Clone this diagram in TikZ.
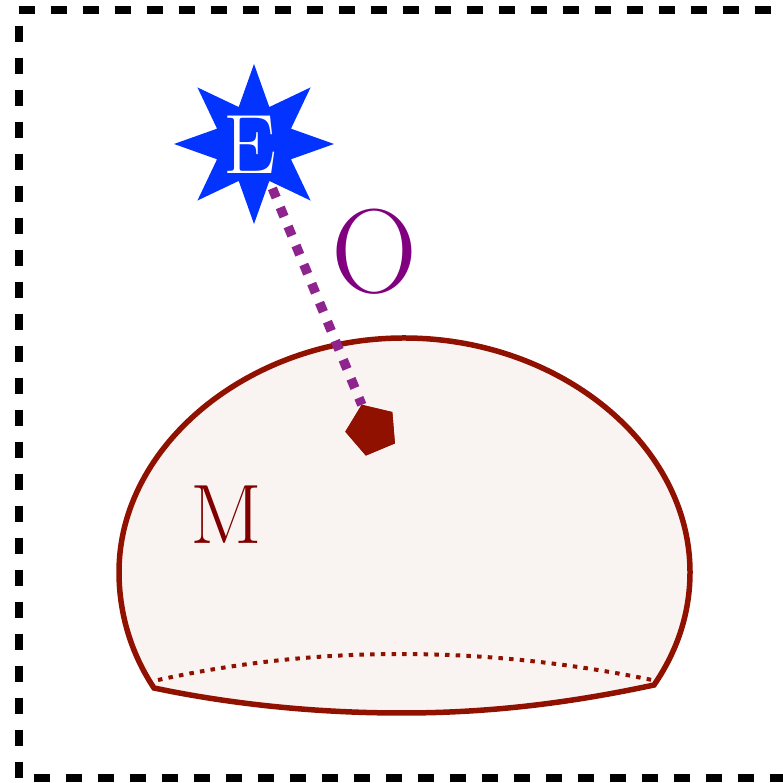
\documentclass[tikz,border=0pt]{standalone}
\usepackage{xcolor}
\usetikzlibrary{shapes.geometric,shapes.symbols}
\definecolor{SourceBlue}{RGB}{3,51,255}
\definecolor{DomeRed}{RGB}{145,17,0}
\definecolor{DomeFill}{RGB}{249,243,241}
\definecolor{LinkPurple}{RGB}{142,36,142}
\definecolor{LabelPurple}{RGB}{128,0,128}
\definecolor{LabelRed}{RGB}{128,0,0}
\newcommand{\calfont}[1]{\fontsize{#1}{#1}\fontfamily{pzc}\fontshape{it}\selectfont}
\tikzset{
  framebox/.style={line width=0.08cm, dash pattern=on 0.16cm off 0.16cm},
  domeline/.style={draw=DomeRed, line width=0.055cm},
  rimline/.style={DomeRed, line width=0.04cm, dash pattern=on 0.045cm off 0.062cm},
  linkline/.style={LinkPurple, line width=0.095cm, dash pattern=on 0.1cm off 0.106cm, shorten <=0.08cm},
  sourcestar/.style={star, star points=8, star point ratio=2, fill=SourceBlue, minimum size=1.6cm,
    inner sep=0pt, outer sep=0pt, text=white},
  pointmark/.style={regular polygon, regular polygon sides=5, rotate=22.7, fill=DomeRed,
    minimum size=0.536cm, inner sep=0pt, outer sep=0pt},
  calab/.style={inner sep=0pt},
}
\begin{document}
\begin{tikzpicture}
  \useasboundingbox (0,0) rectangle (7.83,7.83);
  \draw[framebox] (0.185,0.05) rectangle (7.865,7.73);
  % dome
  \draw[domeline, fill=DomeFill] (1.54,0.95) .. controls (1.32,1.28) and (1.19,1.68) .. (1.19,2.11)
    .. controls (1.19,3.38) and (2.50,4.45) .. (4.04,4.45)
    .. controls (5.60,4.45) and (6.90,3.38) .. (6.90,2.11)
    .. controls (6.90,1.71) and (6.78,1.33) .. (6.54,0.98)
    .. controls (5.70,0.80) and (4.90,0.70) .. (4.02,0.70)
    .. controls (3.20,0.70) and (2.35,0.78) .. (1.54,0.95) -- cycle;
  \draw[rimline] (1.58,1.03) .. controls (2.40,1.21) and (3.20,1.29) .. (4.00,1.29)
    .. controls (4.85,1.29) and (5.70,1.20) .. (6.52,1.03);
  \node[sourcestar] (source) at (2.54,6.39) {};
  \node[pointmark] (point) at (3.72,3.535) {};
  \draw[linkline] (source) -- (point);
  \node[pointmark] at (point) {};
  \node[calab, text=white] (sourcelab) at (2.50,6.38) {\calfont{24}E};
  \node[calab, text=LabelPurple] (linklab) at (3.75,5.31) {\calfont{34}O};
  \node[calab, text=LabelRed] (domelab) at (2.26,2.68) {\calfont{24}M};
\end{tikzpicture}
\end{document}
